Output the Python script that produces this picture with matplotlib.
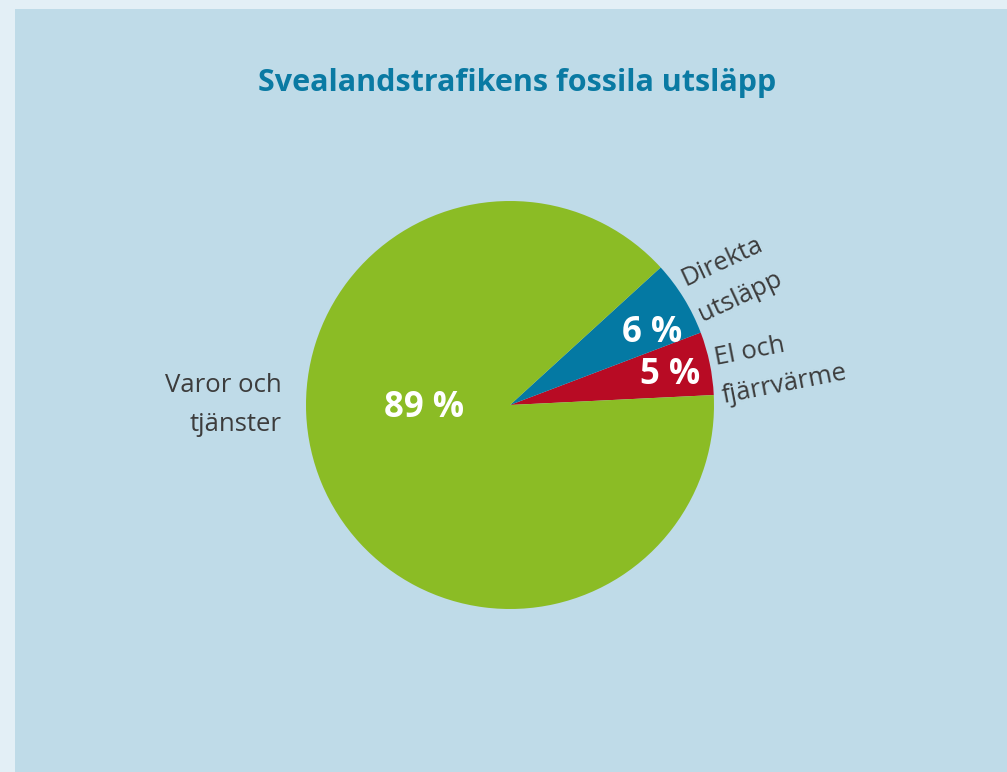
import numpy as np
import matplotlib.pyplot as plt
from matplotlib.patches import Rectangle

# data
categories = ["El och\nfjärrvärme", "Direkta\nutsläpp", "Varor och\ntjänster"]
shares = [5, 6, 89]
pct_labels = ["5 %", "6 %", "89 %"]
colors = ["#b80b24", "#0479a3", "#8bbc25"]

W, H = 1007, 772
fig = plt.figure(figsize=(W / 100, H / 100), dpi=100)
fig.patch.set_facecolor("#e3eff6")
fig.add_artist(Rectangle((15 / W, 0), 1, 1 - 9 / H, transform=fig.transFigure,
                         facecolor="#bfdbe8", edgecolor="none", zorder=0))

# pie axes: centre (510, 405) px, radius 204 px
cx, cy, r = 510, 405, 204
ax = fig.add_axes([(cx - r) / W, (H - cy - r) / H, 2 * r / W, 2 * r / H])
wedges, _ = ax.pie(shares, colors=colors, startangle=2.8, counterclock=True,
                   radius=1, wedgeprops=dict(linewidth=0))
ax.set_xlim(-1, 1)
ax.set_ylim(-1, 1)
ax.axis("off")

# percentage labels (angle in degrees, distance from centre)
pct_pos = [(10.5, 0.80), (27, 0.78), (182, 0.42)]
for txt, (ang, d) in zip(pct_labels, pct_pos):
    a = np.deg2rad(ang)
    ax.text(d * np.cos(a), d * np.sin(a), txt, color="white", fontsize=25,
            fontweight="bold", family="Open Sans", ha="center", va="center")

# category labels
lab_style = dict(color="#3c3c3c", fontsize=18.5, family="Open Sans",
                 linespacing=1.75, clip_on=False)
lab_pos = [(7.5, 1.03, 11, "left"), (30.5, 1.03, 25, "left"), (180, 1.12, 0, "right")]
for txt, (ang, d, rot, ha) in zip(categories, lab_pos):
    a = np.deg2rad(ang)
    ax.text(d * np.cos(a), d * np.sin(a), txt, ha=ha, va="center", rotation=rot,
            rotation_mode="anchor", multialignment=ha, **lab_style)

fig.text(517 / W, 1 - 83 / H, "Svealandstrafikens fossila utsläpp",
         ha="center", va="center", fontsize=22, fontweight="bold",
         family="Open Sans", color="#0a7aa3")

fig.savefig("out.png", dpi=100, facecolor=fig.get_facecolor())
